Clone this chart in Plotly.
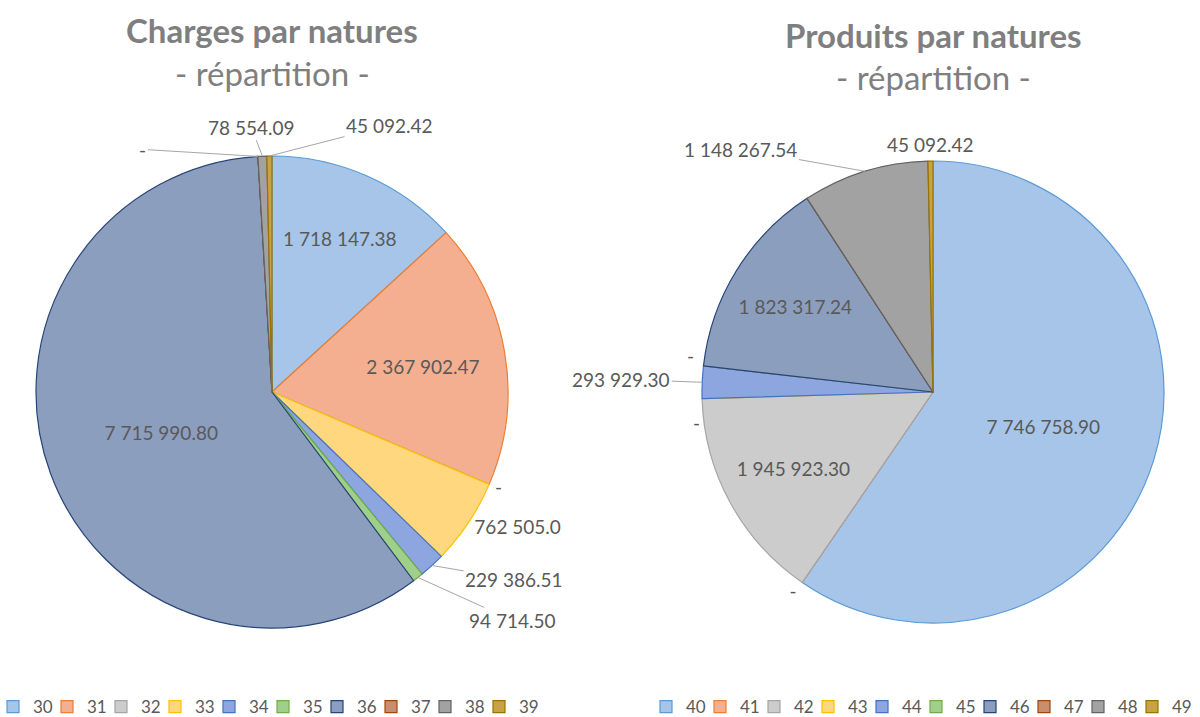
import math
import plotly.graph_objects as go

# ---- data ----
charges_cats = ["30", "31", "32", "33", "34", "35", "36", "37", "38", "39"]
charges_vals = [1718147.38, 2367902.47, 0, 762505.0, 229386.51, 94714.50, 7715990.80, 0, 78554.09, 45092.42]
charges_text = ["1 718 147.38", "2 367 902.47", "-", "762 505.0", "229 386.51", "94 714.50",
                "7 715 990.80", "-", "78 554.09", "45 092.42"]

produits_cats = ["40", "41", "42", "43", "44", "45", "46", "47", "48", "49"]
produits_vals = [7746758.90, 0, 1945923.30, 0, 293929.30, 0, 1823317.24, 0, 1148267.54, 45092.42]
produits_text = ["7 746 758.90", "-", "1 945 923.30", "-", "293 929.30", "-",
                 "1 823 317.24", "", "1 148 267.54", "45 092.42"]

# ---- styles ----
W, H = 1200, 717
fill_cols = ["#A6C5E8", "#F4AF90", "#CCCCCC", "#FFD77F", "#8EA6DF", "#9FCF8B",
             "#8C9EBE", "#C98E6E", "#A2A2A2", "#C9A246"]
line_cols = ["#5B9BD5", "#ED7D31", "#A5A5A5", "#FFC000", "#4472C4", "#70AD47",
             "#264478", "#9E480E", "#636363", "#997300"]

# native text for inside labels and a few plain outside ones;
# "callout" slices get their label as an annotation (with or without a leader line)
charges_pos = ["inside", "inside", "outside", "outside", "none", "none",
               "inside", "none", "none", "none"]
produits_pos = ["inside", "outside", "inside", "none", "none", "none",
                "inside", "none", "none", "none"]

# pixel offsets (label relative to slice edge) for callout labels: index -> (dx, dy, leader)
charges_callouts = {7: (-115, -7, True), 8: (-11, -29, True), 9: (120, -31, True),
                    4: (82, 14, True), 5: (95, 43, True)}
produits_callouts = {3: (-6, 24, False), 4: (-81, -3, True), 5: (-13, -10, False),
                     8: (-124, -22, True), 9: (0, -17, False)}

FONT = "Lato, 'Open Sans', sans-serif"
TXT = "#595959"

left_center, left_r = (272, 392), 236
right_center, right_r = (933, 392), 231


def domain(center, r):
    cx, cy = center
    return dict(x=[(cx - r) / W, (cx + r) / W], y=[1 - (cy + r) / H, 1 - (cy - r) / H])


def callout_annotations(vals, texts, callouts, center, r):
    total = sum(vals)
    anns = []
    cum = 0.0
    for i, v in enumerate(vals):
        mid = (cum + v / 2) / total
        cum += v
        if i not in callouts:
            continue
        dx, dy, leader = callouts[i]
        th = 2 * math.pi * mid
        px = center[0] + r * math.sin(th)
        py = center[1] - r * math.cos(th)
        a = dict(text=texts[i], x=px / W, y=1 - py / H, xref="paper", yref="paper",
                 font=dict(family=FONT, size=19, color=TXT),
                 showarrow=True, ax=dx, ay=dy, axref="pixel", ayref="pixel",
                 arrowhead=0, arrowwidth=1, standoff=0,
                 arrowcolor="#A6A6A6" if leader else "rgba(0,0,0,0)")
        anns.append(a)
    return anns


fig = go.Figure()
fig.add_trace(go.Pie(
    labels=charges_cats, values=charges_vals, text=charges_text,
    texttemplate="%{text}", textposition=charges_pos, sort=False,
    direction="clockwise", rotation=0, insidetextorientation="horizontal",
    marker=dict(colors=fill_cols, line=dict(color=line_cols, width=1.2)),
    textfont=dict(family=FONT, size=19, color=TXT),
    domain=domain(left_center, left_r),
    legend="legend", hoverinfo="label+value", showlegend=True,
))
fig.add_trace(go.Pie(
    labels=produits_cats, values=produits_vals, text=produits_text,
    texttemplate="%{text}", textposition=produits_pos, sort=False,
    direction="clockwise", rotation=0, insidetextorientation="horizontal",
    marker=dict(colors=fill_cols, line=dict(color=line_cols, width=1.2)),
    textfont=dict(family=FONT, size=19, color=TXT),
    domain=domain(right_center, right_r),
    legend="legend2", hoverinfo="label+value", showlegend=True,
))
# invisible trailing legend entries so the last real entry's text is not clipped
for lg in ["legend", "legend2"]:
    fig.add_trace(go.Scatter(x=[None], y=[None], name=" ", mode="markers",
                             marker=dict(color="rgba(0,0,0,0)", size=1,
                                         line=dict(width=0, color="rgba(0,0,0,0)")),
                             legend=lg, showlegend=True, hoverinfo="skip"))

title_font_b = dict(family=FONT, size=33, color="#7F7F7F")
title_font = dict(family=FONT, size=33, color="#7F7F7F")
annotations = [
    dict(text="<b>Charges par natures</b>", x=272/W, y=1-30/H, xref="paper", yref="paper",
         showarrow=False, font=title_font_b, xanchor="center", yanchor="middle"),
    dict(text="- répartition -", x=272/W, y=1-73/H, xref="paper", yref="paper",
         showarrow=False, font=title_font, xanchor="center", yanchor="middle"),
    dict(text="<b>Produits par natures</b>", x=933/W, y=1-35/H, xref="paper", yref="paper",
         showarrow=False, font=title_font_b, xanchor="center", yanchor="middle"),
    dict(text="- répartition -", x=933/W, y=1-77/H, xref="paper", yref="paper",
         showarrow=False, font=title_font, xanchor="center", yanchor="middle"),
]
annotations += callout_annotations(charges_vals, charges_text, charges_callouts, left_center, left_r)
annotations += callout_annotations(produits_vals, produits_text, produits_callouts, right_center, right_r)

legend_common = dict(orientation="h", font=dict(family=FONT, size=17, color=TXT),
                     itemwidth=30, bgcolor="rgba(0,0,0,0)", yanchor="middle",
                     xanchor="left", itemclick=False, tracegroupgap=0,
                     entrywidth=9, entrywidthmode="pixels")
fig.update_layout(
    width=W, height=H, margin=dict(l=0, r=0, t=0, b=0, autoexpand=False),
    paper_bgcolor="white", plot_bgcolor="white",
    xaxis=dict(visible=False), yaxis=dict(visible=False),
    annotations=annotations,
    legend=dict(x=-7/W, y=1-707/H, **legend_common),
    legend2=dict(x=646/W, y=1-707/H, **legend_common),
    font=dict(family=FONT, color=TXT),
)
fig.write_html("out.html")
